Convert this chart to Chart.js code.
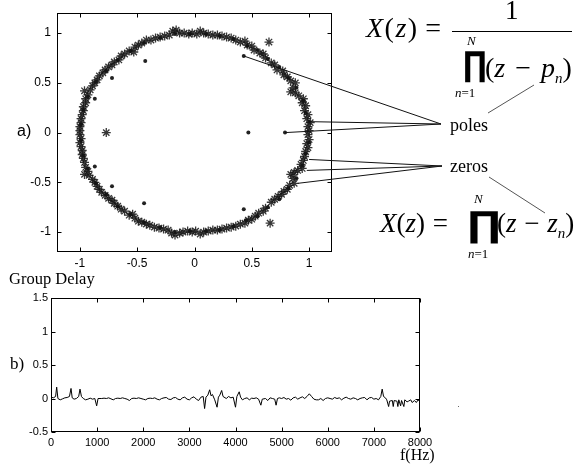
<!DOCTYPE html>
<html>
<head>
<meta charset="utf-8">
<script src="https://cdn.jsdelivr.net/npm/chart.js@4.4.0/dist/chart.umd.min.js"></script>
<style>
  body { margin: 0; background: #fff; }
  #wrap { position: relative; width: 584px; height: 466px; overflow: hidden; }
  canvas { position: absolute; left: 0; }
  .t { position: absolute; line-height: 1; white-space: nowrap; color: #000;
       font-family: "Liberation Serif", "Times New Roman", serif; }
  .sub { font-size: 15px; position: relative; top: 6px; font-style: italic; }
  .prod { position: absolute; line-height: 1; font-family: "DejaVu Sans", sans-serif;
          font-weight: bold; transform-origin: 0 0; }
</style>
</head>
<body>
<div id="wrap">
  <canvas id="can-zplane" width="584" height="275" style="top:0"></canvas>
  <canvas id="can-delay" width="584" height="186" style="top:280px"></canvas>

  <div class="t" style="left:17px;top:123px;font-size:16px;font-family:'Liberation Sans',Arial,sans-serif">a)</div>

  <!-- X(z) = 1 / prod(z - p_n) -->
  <div class="t" style="left:366px;top:14px;font-size:28px;letter-spacing:1.5px;word-spacing:-2px"><i>X</i>(<i>z</i>) =</div>
  <div class="t" style="left:505px;top:-3px;font-size:27px">1</div>
  <div style="position:absolute;left:452px;top:31px;width:120px;height:1px;background:#000"></div>
  <div class="t" style="left:467px;top:34px;font-size:13px"><i>N</i></div>
  <div class="prod" style="left:463px;top:47px;font-size:34px;transform:scaleX(0.9)">∏</div>
  <div class="t" style="left:485px;top:54px;font-size:28px;word-spacing:3px">(<i>z</i> − <i>p</i><span class="sub">n</span>)</div>
  <div class="t" style="left:455px;top:86px;font-size:13px"><i>n</i>=1</div>

  <div class="t" style="left:450px;top:116px;font-size:18px">poles</div>
  <div class="t" style="left:450px;top:157px;font-size:18px">zeros</div>

  <!-- X(z) = prod(z - z_n) -->
  <div class="t" style="left:380px;top:210px;font-size:27px;word-spacing:1px"><i>X</i>(<i>z</i>) =</div>
  <div class="t" style="left:474px;top:192px;font-size:13px"><i>N</i></div>
  <div class="prod" style="left:467px;top:207px;font-size:35.5px;transform:scaleX(1.2)">∏</div>
  <div class="t" style="left:497px;top:210px;font-size:27px;word-spacing:1px">(<i>z</i> − <i>z</i><span class="sub">n</span>)</div>
  <div class="t" style="left:468px;top:247px;font-size:13px"><i>n</i>=1</div>

  <div class="t" style="left:9px;top:271px;font-size:16.5px">Group Delay</div>
  <div class="t" style="left:10px;top:355px;font-size:17px">b)</div>
  <div class="t" style="left:400px;top:447px;font-size:16px">f(Hz)</div>
  <div style="position:absolute;left:458px;top:406px;width:1px;height:1px;background:#666"></div>
</div>

<script>
// ---- a) pole-zero plot ----
const zTicks = [-1, -0.5, 0, 0.5, 1];

// '*' markers (zeros)
const zeroPts = [
  [1.00,0.02],[0.99,0.06],[1.01,0.10],[0.98,0.14],[0.99,0.18],[0.96,0.22],[0.97,0.27],[0.94,0.30],
  [0.95,0.34],[0.91,0.37],[0.88,0.40],[0.84,0.41],[0.86,0.45],[0.88,0.50],[0.84,0.52],[0.81,0.56],
  [0.78,0.58],[0.77,0.62],[0.72,0.63],[0.70,0.68],[0.67,0.70],[0.65,0.91],[0.62,0.75],[0.60,0.79],
  [0.57,0.80],[0.52,0.83],[0.50,0.87],[0.46,0.88],[0.44,0.92],[0.40,0.91],[0.36,0.93],[0.32,0.95],
  [0.28,0.96],[0.24,0.97],[0.20,0.98],[0.16,0.98],[0.12,0.99],[0.08,1.00],[0.05,1.02],[0.02,0.99],
  [-0.02,1.00],[-0.05,0.99],[-0.09,1.00],[-0.13,1.00],[-0.16,1.03],[-0.19,1.02],[-0.22,0.98],[-0.26,0.97],
  [-0.30,0.96],[-0.34,0.95],[-0.38,0.93],[-0.42,0.93],[-0.46,0.90],[-0.49,0.88],[-0.52,0.86],[-0.53,0.81],
  [-0.57,0.82],[-0.61,0.79],[-0.64,0.77],[-0.66,0.73],[-0.70,0.71],[-0.72,0.68],[-0.75,0.66],[-0.78,0.63],
  [-0.80,0.60],[-0.83,0.57],[-0.85,0.53],[-0.87,0.50],[-0.89,0.47],[-0.91,0.43],[-0.96,0.42],[-0.93,0.38],
  [-0.95,0.34],[-0.95,0.30],[-0.97,0.26],[-0.97,0.22],[-0.98,0.18],[-0.99,0.14],[-0.99,0.10],[-1.00,0.06],
  [-1.00,0.02],
  [0.99,-0.02],[1.00,-0.07],[0.98,-0.11],[0.99,-0.15],[0.97,-0.19],[0.96,-0.24],[0.95,-0.28],[0.93,-0.32],
  [0.94,-0.36],[0.90,-0.38],[0.87,-0.40],[0.84,-0.42],[0.86,-0.46],[0.87,-0.51],[0.83,-0.53],[0.81,-0.57],
  [0.78,-0.59],[0.76,-0.62],[0.73,-0.64],[0.70,-0.67],[0.67,-0.70],[0.66,-0.91],[0.62,-0.76],[0.60,-0.79],
  [0.56,-0.81],[0.53,-0.84],[0.50,-0.87],[0.47,-0.88],[0.44,-0.91],[0.40,-0.92],[0.36,-0.94],[0.32,-0.95],
  [0.28,-0.96],[0.24,-0.97],[0.20,-0.98],[0.16,-0.98],[0.12,-0.99],[0.08,-1.00],[0.05,-1.02],[0.01,-0.99],
  [-0.02,-1.00],[-0.06,-0.99],[-0.10,-1.00],[-0.13,-1.01],[-0.17,-1.03],[-0.20,-1.01],[-0.23,-0.98],[-0.27,-0.97],
  [-0.31,-0.96],[-0.35,-0.95],[-0.39,-0.93],[-0.42,-0.92],[-0.46,-0.90],[-0.49,-0.89],[-0.52,-0.86],[-0.54,-0.82],
  [-0.57,-0.83],[-0.61,-0.79],[-0.64,-0.77],[-0.67,-0.74],[-0.70,-0.71],[-0.72,-0.68],[-0.75,-0.66],[-0.78,-0.63],
  [-0.81,-0.60],[-0.83,-0.57],[-0.85,-0.54],[-0.87,-0.50],[-0.89,-0.47],[-0.92,-0.43],[-0.96,-0.42],[-0.93,-0.39],
  [-0.95,-0.35],[-0.96,-0.30],[-0.97,-0.26],[-0.98,-0.22],[-0.98,-0.18],[-0.99,-0.14],[-1.00,-0.10],[-0.99,-0.06],
  [-1.00,-0.02],
  [-0.77,0.00]
];

// '.' markers (poles)
const polePts = [
  [0.43,0.77],[0.43,-0.77],[-0.43,0.72],[-0.44,-0.71],[-0.72,0.55],[-0.72,-0.54],
  [-0.87,0.34],[-0.87,-0.34],[0.47,0.00],[0.79,0.00],
  [1.00,0.11],[0.97,0.20],[0.95,0.32],[0.89,0.45],[0.82,0.55],[0.74,0.66],[0.64,0.74],[0.55,0.83],
  [0.46,0.87],[0.34,0.94],[0.22,0.97],[0.10,0.99],[-0.04,0.99],[-0.17,0.99],[-0.30,0.95],[-0.44,0.90],
  [-0.56,0.82],[-0.67,0.73],[-0.77,0.62],[-0.86,0.51],[-0.93,0.36],[-0.97,0.23],[-0.99,0.08],
  [1.00,-0.10],[0.97,-0.21],[0.94,-0.33],[0.89,-0.46],[0.82,-0.56],[0.74,-0.67],[0.64,-0.75],[0.55,-0.84],
  [0.45,-0.88],[0.34,-0.94],[0.22,-0.98],[0.10,-0.99],[-0.04,-0.99],[-0.17,-1.00],[-0.30,-0.95],[-0.44,-0.90],
  [-0.56,-0.82],[-0.67,-0.74],[-0.77,-0.62],[-0.86,-0.51],[-0.93,-0.36],[-0.97,-0.23],[-0.99,-0.08]
];

// points the "poles" / "zeros" pointer lines start from
const poleLinks = [[0.43,0.77],[1.00,0.11],[0.79,0.00]];
const zeroLinks = [[1.00,-0.27],[0.98,-0.38],[0.90,-0.51]];

// ---- b) group delay ----
const freqHz = [
  0, 50, 100, 123, 150, 200, 250, 300, 350, 400,
  434, 460, 500, 550, 600, 629, 660, 700, 750, 800,
  850, 900, 950, 990, 1020, 1100, 1150, 1200, 1250, 1300,
  1350, 1400, 1450, 1500, 1550, 1600, 1650, 1700, 1750, 1800,
  1850, 1900, 1950, 2000, 2050, 2100, 2150, 2200, 2250, 2300,
  2350, 2400, 2450, 2500, 2550, 2600, 2650, 2700, 2750, 2800,
  2850, 2900, 2950, 3000, 3050, 3100, 3150, 3200, 3250, 3300,
  3330, 3360, 3400, 3440, 3470, 3500, 3550, 3600, 3630, 3660,
  3700, 3730, 3800, 3850, 3900, 3950, 4000, 4030, 4080, 4110,
  4150, 4200, 4250, 4300, 4350, 4400, 4450, 4500, 4550, 4580,
  4650, 4700, 4750, 4800, 4850, 4880, 4910, 4950, 5000, 5050,
  5100, 5150, 5200, 5250, 5300, 5350, 5400, 5450, 5500, 5550,
  5600, 5650, 5700, 5750, 5800, 5850, 5900, 5950, 6000, 6050,
  6100, 6150, 6200, 6250, 6300, 6350, 6400, 6450, 6500, 6550,
  6600, 6650, 6700, 6750, 6800, 6850, 6900, 6950, 7000, 7050,
  7100, 7150, 7180, 7210, 7250, 7280, 7320, 7340, 7400, 7420,
  7440, 7500, 7520, 7540, 7580, 7600, 7650, 7670, 7720, 7750,
  7800, 7830, 7880, 7920, 7960, 8000
];
const groupDelay = [
  0.02, 0.01, 0.03, 0.17, 0.0, -0.02, -0.005, 0.01, 0.015, 0.03,
  0.15, 0.01, -0.01, 0.0, 0.03, 0.14, 0.03, 0.0, -0.02, -0.01,
  0.005, -0.01, 0.0, -0.11, 0.0, 0.0, 0.005, 0.0, 0.01, -0.005,
  -0.02, 0.0, 0.005, 0.0, 0.01, 0.0, -0.01, -0.03, 0.0, 0.005,
  0.0, 0.01, 0.0, -0.01, -0.02, 0.0, 0.005, 0.0, 0.01, -0.01,
  -0.02, 0.0, 0.01, 0.015, -0.01, -0.015, 0.01, 0.015, -0.01, -0.02,
  0.01, 0.02, -0.01, -0.02, 0.01, 0.025, -0.01, -0.03, 0.02, 0.03,
  -0.15, 0.02, 0.05, 0.13, 0.04, 0.06, -0.02, -0.13, 0.02, 0.05,
  0.12, 0.03, 0.0, 0.03, 0.01, 0.02, -0.13, 0.03, 0.10, 0.02,
  -0.02, 0.0, 0.01, -0.02, 0.005, 0.0, 0.01, -0.01, -0.10, -0.01,
  0.0, -0.03, 0.01, 0.0, -0.01, -0.10, 0.0, 0.01, 0.0, 0.015,
  -0.01, 0.0, -0.025, 0.01, 0.02, -0.01, 0.01, 0.025, 0.0, 0.03,
  0.07, 0.03, -0.01, -0.02, -0.02, 0.0, -0.03, 0.0, 0.01, 0.0,
  -0.01, 0.015, 0.0, 0.01, -0.02, 0.005, 0.02, 0.0, -0.01, 0.01,
  0.0, -0.02, 0.0, 0.01, 0.015, -0.02, 0.01, 0.015, -0.01, 0.0,
  -0.02, 0.03, 0.14, 0.03, 0.01, -0.02, -0.12, -0.04, -0.03, -0.12,
  -0.03, -0.04, -0.12, -0.02, -0.11, -0.03, -0.12, -0.02, -0.05, -0.04,
  -0.02, -0.06, -0.03, -0.06, -0.02, -0.05
];
const freqTicks = [0, 1000, 2000, 3000, 4000, 5000, 6000, 7000, 8000];
const delayTicks = [-0.5, 0, 0.5, 1, 1.5];

// caixa preta + marcas de escala para dentro (estilo matlab)
const moldura = {
  id: 'moldura',
  afterDatasetsDraw(chart) {
    const { ctx, chartArea: a, scales } = chart;
    const l = Math.round(a.left) + 0.5, r = Math.round(a.right) - 0.5;
    const t = Math.round(a.top) + 0.5, b = Math.round(a.bottom) - 0.5;
    const len = 4;
    ctx.save();
    ctx.strokeStyle = '#000';
    ctx.lineWidth = 1;
    ctx.strokeRect(l, t, r - l, b - t);
    ctx.beginPath();
    scales.x.ticks.forEach(tk => {
      const px = Math.round(scales.x.getPixelForValue(tk.value)) + 0.5;
      ctx.moveTo(px, b); ctx.lineTo(px, b - len);
      ctx.moveTo(px, t); ctx.lineTo(px, t + len);
    });
    scales.y.ticks.forEach(tk => {
      const py = Math.round(scales.y.getPixelForValue(tk.value)) + 0.5;
      ctx.moveTo(l, py); ctx.lineTo(l + len, py);
      ctx.moveTo(r, py); ctx.lineTo(r - len, py);
    });
    ctx.stroke();
    ctx.restore();
  }
};

// linhas que ligam os polos / zeros aos textos
const ponteiros = {
  id: 'ponteiros',
  afterDraw(chart) {
    const { ctx, scales } = chart;
    const px = p => [scales.x.getPixelForValue(p[0]), scales.y.getPixelForValue(p[1])];
    ctx.save();
    ctx.lineWidth = 1;
    ctx.strokeStyle = '#111';
    ctx.beginPath();
    poleLinks.forEach(p => { const [x, y] = px(p); ctx.moveTo(x, y); ctx.lineTo(441, 124); });
    zeroLinks.forEach(p => { const [x, y] = px(p); ctx.moveTo(x, y); ctx.lineTo(442, 166); });
    ctx.stroke();
    ctx.strokeStyle = '#555';
    ctx.beginPath();
    ctx.moveTo(488, 113); ctx.lineTo(534, 85);
    ctx.moveTo(489, 177); ctx.lineTo(545, 213);
    ctx.stroke();
    ctx.restore();
  }
};

const fonteEixo = { family: '"Liberation Sans", Arial, sans-serif', size: 12 };
const fixTicks = arr => scale => { scale.ticks = arr.map(v => ({ value: v })); };

new Chart(document.getElementById('can-zplane'), {
  type: 'scatter',
  data: {
    datasets: [{
      label: 'zeros',
      data: zeroPts.map(p => ({ x: p[0], y: p[1] })),
      pointStyle: 'star',
      pointRadius: 4.5,
      borderWidth: 1.3,
      borderColor: 'rgba(20,20,20,0.85)',
      backgroundColor: 'transparent'
    }, {
      label: 'poles',
      data: polePts.map(p => ({ x: p[0], y: p[1] })),
      pointStyle: 'circle',
      pointRadius: 2,
      borderWidth: 0,
      backgroundColor: '#222'
    }]
  },
  options: {
    responsive: false,
    animation: false,
    layout: { padding: { left: 0, top: 10, right: 252, bottom: 0 } },
    plugins: { legend: { display: false }, tooltip: { enabled: false } },
    scales: {
      x: {
        type: 'linear', min: -1.2, max: 1.2,
        afterBuildTicks: fixTicks(zTicks),
        afterFit: s => { s.height = 23; },
        grid: { display: false, drawTicks: false },
        border: { display: false },
        ticks: { color: '#000', font: fonteEixo, padding: 4, callback: v => String(v) }
      },
      y: {
        type: 'linear', min: -1.2, max: 1.2,
        afterBuildTicks: fixTicks(zTicks),
        afterFit: s => { s.width = 57; },
        grid: { display: false, drawTicks: false },
        border: { display: false },
        ticks: { color: '#000', font: fonteEixo, padding: 6, callback: v => String(v) }
      }
    }
  },
  plugins: [moldura, ponteiros]
});

const fonteEixo2 = { family: '"Liberation Sans", Arial, sans-serif', size: 11 };

new Chart(document.getElementById('can-delay'), {
  type: 'scatter',
  data: {
    datasets: [{
      label: 'Group Delay',
      data: freqHz.map((f, i) => ({ x: f, y: groupDelay[i] })),
      showLine: true,
      pointRadius: 0,
      borderWidth: 1,
      borderColor: '#000',
      tension: 0
    }]
  },
  options: {
    responsive: false,
    animation: false,
    layout: { padding: { left: 0, top: 18, right: 164, bottom: 0 } },
    plugins: { legend: { display: false }, tooltip: { enabled: false } },
    scales: {
      x: {
        type: 'linear', min: 0, max: 8000,
        afterBuildTicks: fixTicks(freqTicks),
        afterFit: s => { s.height = 34; },
        grid: { display: false, drawTicks: false },
        border: { display: false },
        ticks: { color: '#000', font: fonteEixo2, padding: 4, maxRotation: 0, autoSkip: false, callback: v => String(v) }
      },
      y: {
        type: 'linear', min: -0.5, max: 1.5,
        afterBuildTicks: fixTicks(delayTicks),
        afterFit: s => { s.width = 51; },
        grid: { display: false, drawTicks: false },
        border: { display: false },
        ticks: { color: '#000', font: fonteEixo2, padding: 3, callback: v => String(v) }
      }
    }
  },
  plugins: [moldura]
});
</script>
</body>
</html>
